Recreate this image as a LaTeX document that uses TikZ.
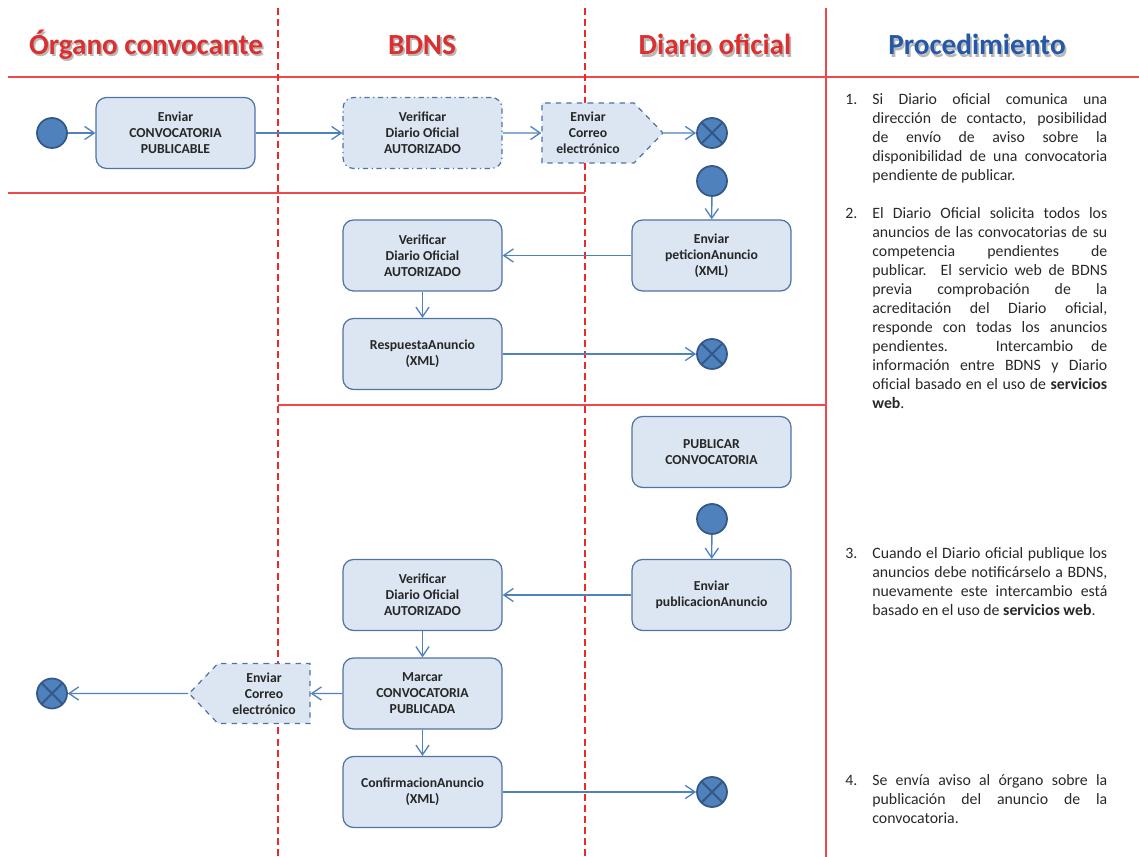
\documentclass[tikz,border=0pt]{standalone}
\usepackage{fontspec}
\setmainfont{Carlito}
\usetikzlibrary{arrows.meta, shapes.symbols}
\definecolor{boxfill}{RGB}{220,230,242}
\definecolor{boxline}{RGB}{80,114,165}
\definecolor{flow}{RGB}{79,129,189}
\definecolor{dotfill}{RGB}{79,129,189}
\definecolor{dotline}{RGB}{52,88,135}
\definecolor{lanered}{RGB}{238,40,40}
\definecolor{titlered}{RGB}{220,48,48}
\definecolor{titleblue}{RGB}{38,88,168}
\definecolor{bodytext}{RGB}{40,40,40}
\newcommand{\shadowed}[2]{\makebox[0pt][l]{\hspace{1pt}\raisebox{-1.3pt}{\color{black!28}#2}}{\color{#1}#2}}
\tikzstyle{actnode} = [draw=boxline,fill=boxfill,rounded corners=6pt,line width=0.7pt,minimum width=3.18cm,minimum height=1.42cm,align=center,inner sep=1pt,text=black!85,font=\fontsize{7.8}{9.1}\selectfont\bfseries]
\tikzstyle{sendnode} = [signal,signal pointer angle=92,draw=boxline,fill=boxfill,dashed,line width=0.7pt,minimum width=2.42cm,minimum height=1.2cm,align=center,inner sep=1pt,text=black!85,font=\fontsize{7.8}{9.1}\selectfont\bfseries]
\tikzstyle{startnode} = [circle,draw=dotline,fill=dotfill,line width=1pt,minimum size=0.6cm,inner sep=0pt]
\tikzstyle{endnode} = [startnode,path picture={\draw[dotline,line width=1.2pt] (path picture bounding box.north west) -- (path picture bounding box.south east) (path picture bounding box.north east) -- (path picture bounding box.south west);}]
\tikzstyle{title} = [inner sep=0pt,font=\fontsize{16.6}{19}\selectfont\bfseries]
\tikzstyle{steptext} = [anchor=north west,inner sep=0pt,text width=4.7cm,align=justify,text=bodytext,font=\fontsize{9}{10.8}\selectfont]
\tikzstyle{laneline} = [lanered!85,line width=0.85pt]
\tikzstyle{lanedash} = [lanered,line width=1.5pt,dash pattern=on 4pt off 2.3pt]
\newcommand{\stepnum}[1]{\noindent\strut\llap{\makebox[15.3pt][l]{#1}}}

\begin{document}
\begin{tikzpicture}[x=0.02cm,y=-0.02cm,>={Straight Barb[length=5.5pt,width=7.5pt]}]
	\useasboundingbox (0,0) rectangle (1139,857);

	% calles
	\draw[laneline] (8,77) -- (1139,77);
	\draw[laneline] (8,193) -- (585,193);
	\draw[laneline] (278,405) -- (826,405);
	\draw[laneline] (826,8) -- (826,857);
	\draw[lanedash] (278,8) -- (278,857);
	\draw[lanedash] (585,8) -- (585,857);

	\node[title] (torg) at (146,46) {\shadowed{titlered}{Órgano convocante}};
	\node[title] (tbdns) at (422,46) {\shadowed{titlered}{BDNS}};
	\node[title] (tdiario) at (715,46) {\shadowed{titlered}{Diario oficial}};
	\node[title] (tproc) at (977,46) {\shadowed{titleblue}{Procedimiento}};

	% 1. aviso
	\node[startnode] (ini1) at (52,133) {};
	\node[actnode] (env) at (175.5,133) {Enviar\\CONVOCATORIA\\PUBLICABLE};
	\node[actnode,dash dot] (ver1) at (422.5,133) {Verificar\\Diario Oficial\\AUTORIZADO};
	\node[sendnode] (correo1) at (588,133) {Enviar\\Correo\\electrónico};
	\node[endnode] (fin1) at (712,133) {};

	\draw[->,flow,line width=0.75pt] (ini1) -- (env);
	\draw[->,flow,line width=0.75pt] (env) -- (ver1);
	\draw[->,flow,line width=0.75pt] (ver1) -- (correo1);
	\draw[->,flow,line width=0.75pt] (correo1) -- (fin1);

	% 2. peticion
	\node[startnode] (ini2) at (712,181) {};
	\node[actnode] (pet) at (711.5,255.5) {Enviar\\peticionAnuncio\\(XML)};
	\node[actnode] (ver2) at (422.5,255.5) {Verificar\\Diario Oficial\\AUTORIZADO};
	\node[actnode] (resp) at (422.5,354) {RespuestaAnuncio\\(XML)};
	\node[endnode] (fin2) at (712,354) {};

	\draw[->,flow,line width=0.75pt] (ini2) -- (pet);
	\draw[->,flow,line width=0.75pt] (pet) -- (ver2);
	\draw[->,flow,line width=0.75pt] (ver2) -- (resp);
	\draw[->,flow,line width=0.75pt] (resp) -- (fin2);

	% 3. publicacion
	\node[actnode] (pub) at (711.5,452) {PUBLICAR\\CONVOCATORIA};
	\node[startnode] (ini3) at (712,519) {};
	\node[actnode] (pubanu) at (711.5,595) {Enviar\\publicacionAnuncio};
	\node[actnode] (ver3) at (422.5,595) {Verificar\\Diario Oficial\\AUTORIZADO};
	\node[actnode] (marcar) at (422.5,693.5) {Marcar\\CONVOCATORIA\\PUBLICADA};
	\node[sendnode,signal to=west] (correo2) at (264,693.5) {Enviar\\Correo\\electrónico};
	\node[endnode] (fin3) at (52,693.5) {};
	\node[actnode] (conf) at (422.5,792) {ConfirmacionAnuncio\\(XML)};
	\node[endnode] (fin4) at (712,792) {};

	\draw[->,flow,line width=0.75pt] (ini3) -- (pubanu);
	\draw[->,flow,line width=0.75pt] (pubanu) -- (ver3);
	\draw[->,flow,line width=0.75pt] (ver3) -- (marcar);
	\draw[->,flow,line width=0.75pt] (marcar) -- (correo2);
	\draw[->,flow,line width=0.75pt] (correo2) -- (fin3);
	\draw[->,flow,line width=0.75pt] (marcar) -- (conf);
	\draw[->,flow,line width=0.75pt] (conf) -- (fin4);

	% procedimiento
	\node[steptext] (paso1) at (872,91) {\stepnum{1.}Si Diario oficial comunica una\linebreak dirección de contacto, posibilidad\linebreak de envío de aviso sobre la\linebreak disponibilidad de una convocatoria\linebreak pendiente de publicar.};
	\node[steptext] (paso2) at (872,205) {\stepnum{2.}El Diario Oficial solicita todos los\linebreak anuncios de las convocatorias de su\linebreak competencia pendientes de\linebreak publicar. El servicio web de BDNS\linebreak previa comprobación de la\linebreak acreditación del Diario oficial,\linebreak responde con todas los anuncios\linebreak pendientes. Intercambio de\linebreak información entre BDNS y Diario\linebreak oficial basado en el uso de \textbf{servicios}\linebreak \textbf{web}.};
	\node[steptext] (paso3) at (872,545) {\stepnum{3.}Cuando el Diario oficial publique los\linebreak anuncios debe notificárselo a BDNS,\linebreak nuevamente este intercambio está\linebreak basado en el uso de \textbf{servicios web}.};
	\node[steptext] (paso4) at (872,772) {\stepnum{4.}Se envía aviso al órgano sobre la\linebreak publicación del anuncio de la\linebreak convocatoria.};
\end{tikzpicture}
\end{document}
